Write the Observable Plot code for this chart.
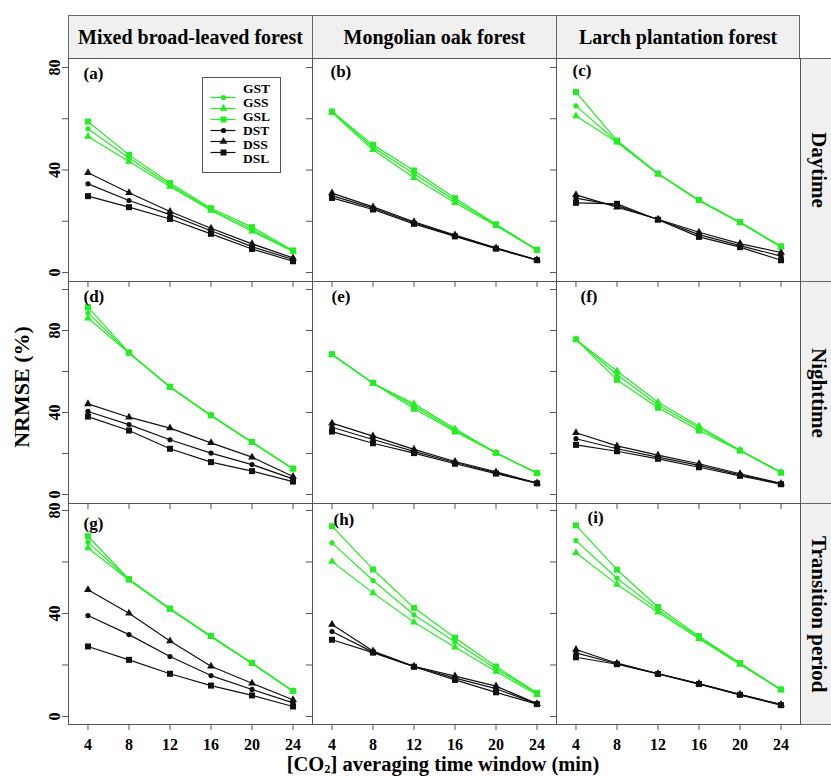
<!DOCTYPE html>
<html><head><meta charset="utf-8">
<script src="https://cdn.jsdelivr.net/npm/d3@7"></script>
<script src="https://cdn.jsdelivr.net/npm/@observablehq/plot@0.6"></script>
<style>
body{margin:0;background:#fff;}
#fig{position:relative;width:831px;height:776px;overflow:hidden;background:#fff;font-family:"Liberation Serif","Times New Roman",serif;font-weight:bold;color:#000;}
.strip{position:absolute;box-sizing:border-box;background:#f0f0f0;border:1px solid #666;display:flex;align-items:center;justify-content:center;white-space:nowrap;}
.top{font-size:20px;}
.side{font-size:21px;writing-mode:vertical-rl;}
.side span{line-height:20px;}
.panel{position:absolute;}
.lbl{position:absolute;white-space:nowrap;font-size:22px;}
.leg{position:absolute;white-space:nowrap;font-size:13.5px;line-height:14px;}
</style></head><body><div id="fig"></div>
<script>
const windows = [4, 8, 12, 16, 20, 24];
const series = ["GST", "GSS", "GSL", "DST", "DSS", "DSL"];
const forests = ["Mixed broad-leaved forest", "Mongolian oak forest", "Larch plantation forest"];
const periods = ["Daytime", "Nighttime", "Transition period"];
const panelLabels = ["(a)", "(b)", "(c)", "(d)", "(e)", "(f)", "(g)", "(h)", "(i)"];
const yTicks = [0, 20, 40, 60, 80, 100];
const yTickLabels = [0, 40, 80];

// values per panel, rows in series order GST, GSS, GSL, DST, DSS, DSL
const panelA = [
  [56.1, 44.7, 34.2, 24.6, 16.8, 8.3],
  [53.1, 43.3, 33.6, 24.2, 16.1, 8.2],
  [58.9, 45.9, 34.9, 25.1, 17.7, 8.6],
  [34.6, 28.1, 22.6, 16.3, 10.1, 5.1],
  [38.9, 31.1, 23.8, 17.3, 11.2, 5.7],
  [29.8, 25.5, 20.9, 15.1, 9.2, 4.4]];
const panelB = [
  [62.6, 48.9, 38.5, 28.1, 18.6, 8.8],
  [62.4, 47.9, 37.0, 27.2, 18.3, 8.7],
  [62.8, 49.8, 39.8, 29.0, 18.8, 8.9],
  [30.0, 25.1, 19.4, 14.3, 9.4, 4.9],
  [31.0, 25.6, 19.8, 14.6, 9.6, 5.0],
  [29.1, 24.6, 19.0, 14.1, 9.3, 4.8]];
const panelC = [
  [65.0, 51.0, 38.5, 28.1, 19.5, 10.1],
  [61.1, 50.8, 38.4, 28.0, 19.4, 10.0],
  [70.4, 51.5, 38.6, 28.3, 19.7, 10.2],
  [29.0, 26.1, 20.7, 14.8, 10.5, 6.4],
  [30.3, 25.5, 20.8, 15.7, 11.3, 7.8],
  [27.2, 26.8, 20.6, 13.9, 9.9, 4.8]];
const panelD = [
  [88.6, 69.1, 52.4, 38.5, 25.5, 12.5],
  [86.0, 69.0, 52.3, 38.4, 25.4, 12.4],
  [91.4, 69.2, 52.5, 38.6, 25.6, 12.6],
  [40.5, 34.1, 26.7, 20.2, 14.6, 7.6],
  [44.2, 37.7, 32.4, 25.2, 18.2, 8.8],
  [38.0, 31.2, 22.3, 15.8, 11.4, 6.3]];
const panelE = [
  [68.3, 54.3, 43.1, 31.2, 20.3, 10.4],
  [68.2, 54.2, 44.2, 32.0, 20.3, 10.4],
  [68.4, 54.4, 41.8, 30.7, 20.3, 10.4],
  [32.8, 26.8, 21.0, 15.6, 10.6, 5.5],
  [34.8, 28.5, 22.0, 16.1, 11.0, 5.6],
  [30.7, 25.0, 20.2, 15.0, 10.2, 5.4]];
const panelF = [
  [75.6, 58.4, 43.7, 32.4, 21.5, 10.7],
  [75.5, 60.2, 45.0, 33.3, 21.6, 10.9],
  [75.7, 55.9, 42.3, 31.2, 21.4, 10.6],
  [27.2, 22.3, 18.2, 14.2, 9.6, 5.2],
  [30.1, 23.7, 19.2, 15.0, 10.1, 5.4],
  [24.2, 21.1, 17.4, 13.3, 9.1, 5.0]];
const panelG = [
  [67.7, 53.1, 41.7, 31.1, 20.7, 9.8],
  [65.4, 53.0, 41.6, 31.0, 20.6, 9.7],
  [70.0, 53.3, 41.9, 31.3, 20.8, 9.9],
  [39.2, 31.8, 23.3, 15.9, 10.5, 5.3],
  [49.2, 40.1, 29.3, 19.5, 12.9, 6.5],
  [27.2, 22.0, 16.6, 12.0, 8.2, 3.9]];
const panelH = [
  [67.4, 52.8, 39.5, 28.9, 18.5, 9.0],
  [60.2, 48.0, 36.6, 26.9, 17.5, 8.5],
  [73.9, 57.1, 42.2, 30.6, 19.4, 9.2],
  [33.0, 25.0, 19.4, 14.9, 10.8, 4.9],
  [35.7, 25.4, 19.5, 15.7, 11.8, 5.0],
  [29.8, 24.8, 19.3, 14.2, 9.4, 4.8]];
const panelI = [
  [68.3, 53.7, 41.4, 30.7, 20.5, 10.4],
  [63.6, 51.3, 40.5, 30.2, 20.2, 10.3],
  [74.2, 57.0, 42.5, 31.2, 20.8, 10.5],
  [24.7, 20.5, 16.6, 12.7, 8.5, 4.5],
  [26.0, 20.7, 16.7, 12.8, 8.6, 4.7],
  [23.0, 20.3, 16.5, 12.6, 8.4, 4.4]];
const panels = [panelA, panelB, panelC, panelD, panelE, panelF, panelG, panelH, panelI];

// layout
const GREEN = "#22ee22", BLACK = "#111";
const colLeft = [68, 312, 556], colW = 244;
const rowTop = [58, 281, 503], rowH = [223, 222, 221];
const xDomain = [2.1, 25.9];
const yDomains = [[-3.5, 83.5], [-4.4, 103.9], [-3.1, 82.7]];
const labelDx = [15, 18, 16, 15, 19, 24, 15, 21, 31];
const labelDy = [15, 13, 12, 15, 15, 15, 20, 16, 14];
const FONT = "Liberation Serif, Times New Roman, serif";
const legendBox = {left: 202, top: 77, width: 78, height: 95, rowStart: 12, rowStep: 14};

const colorOf = s => s[0] === "G" ? GREEN : BLACK;
const shapeOf = s => ({T: "circle", S: "triangle", L: "square"})[s[2]];
const sizeOf = {circle: 2.6, triangle: 2.9, square: 3.4};

const fig = document.getElementById("fig");

function addDiv(cls, left, top, w, h, html) {
  const d = document.createElement("div");
  d.className = cls;
  Object.assign(d.style, {left: left + "px", top: top + "px", width: w + "px", height: h + "px"});
  d.innerHTML = html;
  fig.appendChild(d);
  return d;
}

// strips
forests.forEach((f, c) => addDiv("strip top", colLeft[c], 15, colW + (c < 2 ? 1 : 0), 44, f));
periods.forEach((p, r) => addDiv("strip side", 800, rowTop[r], 38, rowH[r] + 1, "<span>" + p + "</span>"));

function makePanel(r, c) {
  const idx = r * 3 + c;
  const vals = panels[idx];
  const rows = [];
  series.forEach((s, i) => windows.forEach((w, j) => rows.push({w, v: vals[i][j], s})));
  const dots = ["circle", "triangle", "square"].map(shape =>
    Plot.dot(rows.filter(d => shapeOf(d.s) === shape), {
      x: "w", y: "v", symbol: () => shape, r: sizeOf[shape], fill: d => colorOf(d.s), stroke: "none"
    }));
  const marks = [
    Plot.axisY({ticks: yTicks.filter(t => t <= yDomains[r][1]), tickSize: 6, label: null, fill: "none"}),
    Plot.axisX({ticks: windows, tickSize: 6, label: null, fill: "none"}),
    Plot.line(rows.filter(d => d.s[0] === "G"), {x: "w", y: "v", z: "s", stroke: GREEN, strokeWidth: 1.2}),
    Plot.line(rows.filter(d => d.s[0] === "D"), {x: "w", y: "v", z: "s", stroke: BLACK, strokeWidth: 1.2}),
    ...dots,
    Plot.text([panelLabels[idx]], {
      frameAnchor: "top-left", dx: labelDx[idx], dy: labelDy[idx], text: d => d,
      textAnchor: "start", lineAnchor: "middle", fontSize: 17, fontWeight: "bold", fill: "#000"
    }),
    Plot.frame({stroke: "#555"})
  ];
  if (c === 0) marks.push(Plot.axisY({
    ticks: yTickLabels, tickSize: 0, tickPadding: 14, label: null, stroke: "none",
    rotate: -90, textAnchor: "middle", fontSize: 16, fill: "#000"
  }));
  if (r === 2) marks.push(Plot.axisX({
    ticks: windows, tickSize: 0, tickPadding: 14, label: null, stroke: "none",
    tickFormat: d => String(d), fontSize: 16, fill: "#000"
  }));
  const svg = Plot.plot({
    width: colW, height: rowH[r], margin: 0,
    x: {domain: xDomain}, y: {domain: yDomains[r]},
    symbol: {type: "identity"},
    style: {overflow: "visible", background: "transparent", fontFamily: FONT, fontWeight: "bold", color: "#555"},
    marks
  });
  const holder = addDiv("panel", colLeft[c], rowTop[r], colW, rowH[r], "");
  holder.appendChild(svg);
}

for (let r = 0; r < 3; r++) for (let c = 0; c < 3; c++) makePanel(r, c);

// legend inside panel (a): key drawn with Plot, labels as HTML text
const rowY = series.map((s, i) => legendBox.rowStart + i * legendBox.rowStep);
const legend = Plot.plot({
  width: legendBox.width, height: legendBox.height, margin: 0,
  x: {domain: [0, legendBox.width], range: [0, legendBox.width], axis: null},
  y: {type: "point", domain: series, range: [rowY[0], rowY[rowY.length - 1]], axis: null},
  symbol: {type: "identity"},
  style: {overflow: "visible", background: "#fff", color: "#555"},
  marks: [
    Plot.frame({stroke: "#555"}),
    Plot.ruleY(series, {y: d => d, x1: 8.5, x2: 33.5, stroke: d => colorOf(d), strokeWidth: 1.2}),
    ...["circle", "triangle", "square"].map(shape =>
      Plot.dot(series.filter(s => shapeOf(s) === shape), {
        x: 21, y: d => d, symbol: () => shape, r: sizeOf[shape], fill: d => colorOf(d), stroke: "none"
      }))
  ]
});
const lg = addDiv("panel", legendBox.left, legendBox.top, legendBox.width, legendBox.height, "");
lg.appendChild(legend);
series.forEach((s, i) => addDiv("leg", legendBox.left + 41, legendBox.top + rowY[i] - 7, 34, 14, s));

// axis titles
const yl = addDiv("lbl", 22 - 70, 387 - 14, 140, 28, "NRMSE (%)");
Object.assign(yl.style, {transform: "rotate(-90deg)", textAlign: "center", lineHeight: "28px"});
const xl = addDiv("lbl", 443 - 200, 753, 400, 22, "[CO<sub style=\"font-size:12.5px;vertical-align:-2px;line-height:0;\">2</sub>] averaging time window (min)");
Object.assign(xl.style, {textAlign: "center", lineHeight: "22px", fontSize: "20.5px"});
</script></body></html>
